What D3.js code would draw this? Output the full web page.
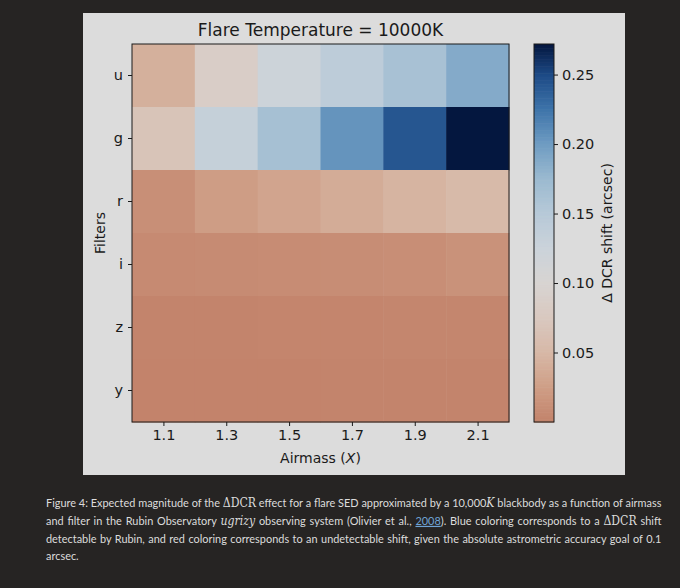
<!DOCTYPE html>
<html>
<head>
<meta charset="utf-8">
<script src="https://cdn.jsdelivr.net/npm/d3@7"></script>
<style>
  body { margin: 0; background: #262423; }
</style>
</head>
<body>
<div id="chart"></div>
<script>
// data: Delta DCR shift (arcsec) per filter and airmass
const filters = ["u", "g", "r", "i", "z", "y"];
const airmass = [1.1, 1.3, 1.5, 1.7, 1.9, 2.1];
const uShift = [0.042, 0.085, 0.123, 0.142, 0.163, 0.188];
const gShift = [0.068, 0.132, 0.165, 0.205, 0.243, 0.272];
const rShift = [0.012, 0.024, 0.031, 0.038, 0.046, 0.053];
const iShift = [0.007, 0.008, 0.009, 0.010, 0.011, 0.014];
const zShift = [0.002, 0.002, 0.003, 0.003, 0.004, 0.004];
const yShift = [0.001, 0.001, 0.001, 0.002, 0.002, 0.002];
const xTicks = [1.1, 1.3, 1.5, 1.7, 1.9, 2.1];
const cbarTicks = [0.05, 0.10, 0.15, 0.20, 0.25];

// colormap stops
const cmapValues = [0, 0.025, 0.05, 0.075, 0.10, 0.125, 0.15, 0.175, 0.20, 0.225, 0.25, 0.272];
const cmapColors = ["#c2826a", "#cf9e86", "#d7b8a6", "#d9c8bf", "#d8d4d2", "#cbd3da",
                    "#b7c9d8", "#9bbad0", "#6f9cc2", "#3e74aa", "#1d4a86", "#04173f"];

const rows = [uShift, gShift, rShift, iShift, zShift, yShift];
const cells = [];
rows.forEach((vals, r) => vals.forEach((v, c) => cells.push({filter: filters[r], x: airmass[c], value: v})));

const W = 680, H = 588;
const plot = {left: 132, top: 44, right: 509, bottom: 422};
const cbar = {left: 534, right: 554};
const ink = "#1a1a1a";
const mplFont = "'DejaVu Sans', sans-serif";

const svg = d3.select("#chart").append("svg")
    .attr("width", W)
    .attr("height", H);

svg.append("rect").attr("width", W).attr("height", H).attr("fill", "#262423");
svg.append("rect")
    .attr("x", 83).attr("y", 13)
    .attr("width", 542).attr("height", 462)
    .attr("fill", "#dcdcdc");

const x = d3.scaleLinear().domain([1.0, 2.2]).range([plot.left, plot.right]);
const y = d3.scaleBand().domain(filters).range([plot.top, plot.bottom]);
const color = d3.scaleLinear().domain(cmapValues).range(cmapColors).clamp(true);

svg.append("g").selectAll("rect")
    .data(cells)
    .enter()
    .append("rect")
        .attr("x", d => x(d.x - 0.1))
        .attr("y", d => y(d.filter))
        .attr("width", x(1.2) - x(1.0) + 0.5)
        .attr("height", y.bandwidth() + 0.5)
        .attr("fill", d => color(d.value));

svg.append("rect")
    .attr("x", plot.left).attr("y", plot.top)
    .attr("width", plot.right - plot.left).attr("height", plot.bottom - plot.top)
    .attr("fill", "none").attr("stroke", ink).attr("stroke-width", 1);

const xAxis = svg.append("g")
    .attr("transform", "translate(0," + plot.bottom + ")")
    .call(d3.axisBottom(x).tickValues(xTicks).tickFormat(d3.format(".1f")).tickSizeOuter(0).tickSize(4).tickPadding(4));
const yAxis = svg.append("g")
    .attr("transform", "translate(" + plot.left + ",0)")
    .call(d3.axisLeft(y).tickSizeOuter(0).tickSize(4).tickPadding(5));

[xAxis, yAxis].forEach(a => {
    a.select(".domain").remove();
    a.selectAll("line").attr("stroke", ink);
    a.selectAll("text").attr("fill", ink)
        .style("font-family", mplFont).style("font-size", "14.5px");
});

svg.append("text")
    .attr("x", (plot.left + plot.right) / 2)
    .attr("y", 36)
    .attr("text-anchor", "middle")
    .attr("fill", ink)
    .style("font-family", mplFont)
    .style("font-size", "17px")
    .text("Flare Temperature = 10000K");

const xlab = svg.append("text")
    .attr("x", (plot.left + plot.right) / 2)
    .attr("y", 463)
    .attr("text-anchor", "middle")
    .attr("fill", ink)
    .style("font-family", mplFont)
    .style("font-size", "14px");
xlab.append("tspan").text("Airmass (");
xlab.append("tspan").style("font-style", "italic").text("X");
xlab.append("tspan").text(")");

svg.append("text")
    .attr("transform", "translate(105," + (plot.top + plot.bottom) / 2 + ") rotate(-90)")
    .attr("text-anchor", "middle")
    .attr("fill", ink)
    .style("font-family", mplFont)
    .style("font-size", "14px")
    .text("Filters");

// colorbar
const cy = d3.scaleLinear().domain([0, 0.272]).range([plot.bottom, plot.top]);
const steps = d3.range(0, 0.272, 0.001);
svg.append("g").selectAll("rect")
    .data(steps)
    .enter()
    .append("rect")
        .attr("x", cbar.left)
        .attr("y", d => cy(d + 0.001))
        .attr("width", cbar.right - cbar.left)
        .attr("height", cy(0) - cy(0.001) + 0.6)
        .attr("fill", d => color(d + 0.0005));

svg.append("rect")
    .attr("x", cbar.left).attr("y", plot.top)
    .attr("width", cbar.right - cbar.left).attr("height", plot.bottom - plot.top)
    .attr("fill", "none").attr("stroke", ink).attr("stroke-width", 1);

const cAxis = svg.append("g")
    .attr("transform", "translate(" + cbar.right + ",0)")
    .call(d3.axisRight(cy).tickValues(cbarTicks).tickFormat(d3.format(".2f")).tickSizeOuter(0).tickSize(4).tickPadding(4));
cAxis.select(".domain").remove();
cAxis.selectAll("line").attr("stroke", ink);
cAxis.selectAll("text").attr("fill", ink)
    .style("font-family", mplFont).style("font-size", "14.5px");

svg.append("text")
    .attr("transform", "translate(612," + (plot.top + plot.bottom) / 2 + ") rotate(-90)")
    .attr("text-anchor", "middle")
    .attr("fill", ink)
    .style("font-family", mplFont)
    .style("font-size", "14px")
    .text("\u0394 DCR shift (arcsec)");

// caption: justified lines, same horizontal squeeze for all of them
const captionLines = [
    [["Figure 4: Expected magnitude of the ", ""], ["\u0394DCR", "m"], [" effect for a flare SED approximated by a 10,000", ""], ["K", "i"], [" blackbody as a function of airmass", ""]],
    [["and filter in the Rubin Observatory ", ""], ["ugrizy", "i"], [" observing system (Olivier et al., ", ""], ["2008", "a"], ["). Blue coloring corresponds to a ", ""], ["\u0394DCR", "m"], [" shift", ""]],
    [["detectable by Rubin, and red coloring corresponds to an undetectable shift, given the absolute astrometric accuracy goal of 0.1", ""]],
    [["arcsec.", ""]]
];
const capLeft = 46, capWidth = 616, capTop = 507, capStep = 17.8;

const capTexts = captionLines.map((parts, i) => {
    const t = svg.append("text")
        .attr("fill", "#dcdcdc")
        .style("font-family", "Lato, 'Open Sans', sans-serif")
        .style("font-size", "12px");
    parts.forEach(([txt, kind]) => {
        const s = t.append("tspan").text(txt);
        if (kind === "m") s.style("font-family", "'DejaVu Serif', serif");
        if (kind === "i") s.style("font-family", "'DejaVu Serif', serif").style("font-style", "italic");
        if (kind === "a") s.attr("fill", "#6fa3d6").style("text-decoration", "underline");
    });
    const str = parts.map(p => p[0]).join("");
    return {t: t, width: t.node().getComputedTextLength(), spaces: (str.match(/ /g) || []).length};
});

const squeeze = d3.min(capTexts.slice(0, -1), d => capWidth / d.width);
capTexts.forEach((d, i) => {
    if (i < capTexts.length - 1 && d.spaces > 0) {
        d.t.style("word-spacing", ((capWidth / squeeze - d.width) / d.spaces) + "px");
    }
    d.t.attr("transform", "translate(" + capLeft + "," + (capTop + i * capStep) + ") scale(" + squeeze + ",1)");
});
</script>
</body>
</html>
